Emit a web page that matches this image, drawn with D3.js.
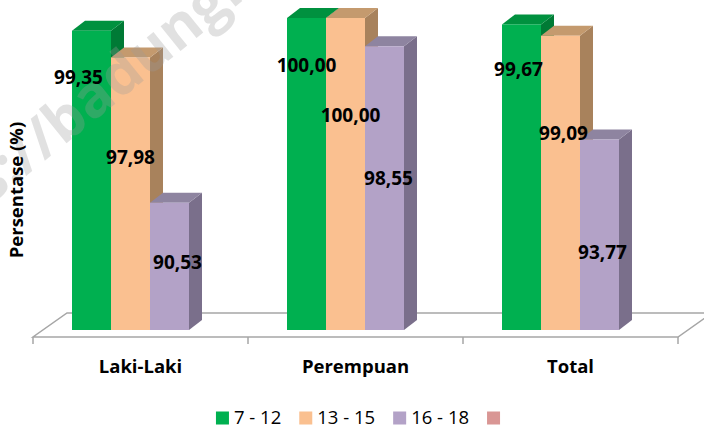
<!DOCTYPE html>
<html>
<head>
<meta charset="utf-8">
<script src="https://cdn.jsdelivr.net/npm/d3@7"></script>
<style>
  body { margin: 0; background: #fff; }
  svg { display: block; }
</style>
</head>
<body>
<div id="chart"></div>
<script>
// Data
const categories = ["Laki-Laki", "Perempuan", "Total"];
const series = ["7 - 12", "13 - 15", "16 - 18"];
const values712 = [99.35, 100.00, 99.67];
const values1315 = [97.98, 100.00, 99.09];
const values1618 = [90.53, 98.55, 93.77];
const legendItems = ["7 - 12", "13 - 15", "16 - 18", ""];

// Colours: front, top, side
const colors = [
    {front: "#00B050", top: "#00913F", side: "#007A35"},
    {front: "#FAC090", top: "#C49A6E", side: "#A8825C"},
    {front: "#B3A2C7", top: "#8E84A0", side: "#7A6F8B"},
    {front: "#D99694", top: "#D99694", side: "#D99694"}
];

// label placement (excel puts them oddly on 3d bars)
const labelDx = [[-13, 0, 8], [0, 5, 4], [-3, 3, 3]];
const labelDy = [[47, 100, 60], [47, 97, 132], [45, 98, 113]];

const W = 704, H = 428;
const depthX = 13, depthY = 10;

const svg = d3.select("#chart").append("svg")
    .attr("width", W)
    .attr("height", H);

const x0 = d3.scaleBand()
    .domain(categories)
    .range([33, 678]);

const x1 = d3.scaleBand()
    .domain(series)
    .range([0, 117]);

const y = d3.scaleLinear()
    .domain([84, 100])
    .range([330, 18]);

const baseY = y(84);

// Floor
const fl = x0.range()[0], fr = x0.range()[1];
const floorFront = baseY + 7, floorBack = baseY - 17;
svg.append("polygon")
    .attr("points", [[fl, floorFront], [fr, floorFront], [fr + 34, floorBack], [fl + 34, floorBack]].join(" "))
    .attr("fill", "#fff")
    .attr("stroke", "#A6A6A6")
    .attr("stroke-width", 1.5);

// ticks along front edge
svg.selectAll(".tick")
    .data(categories.concat([null]))
    .enter()
    .append("line")
    .attr("x1", (d, i) => fl + i * x0.step())
    .attr("x2", (d, i) => fl + i * x0.step())
    .attr("y1", floorFront)
    .attr("y2", floorFront + 7)
    .attr("stroke", "#A6A6A6")
    .attr("stroke-width", 1.5);

const allValues = [values712, values1315, values1618];
const bars = [];
categories.forEach((c, ci) => {
    series.forEach((s, si) => {
        bars.push({cat: c, ci: ci, si: si, value: allValues[si][ci]});
    });
});

const groupOffset = (x0.bandwidth() - 117) / 2 - 10;
const bx = d => x0(d.cat) + groupOffset + x1(series[d.si]);
const bw = x1.bandwidth();

const g = svg.selectAll(".bar")
    .data(bars)
    .enter()
    .append("g");

// side
g.append("polygon")
    .attr("points", d => {
        const x = bx(d), t = y(d.value);
        return [[x + bw, t], [x + bw + depthX, t - depthY], [x + bw + depthX, baseY - depthY], [x + bw, baseY]].join(" ");
    })
    .attr("fill", d => colors[d.si].side);

// top
g.append("polygon")
    .attr("points", d => {
        const x = bx(d), t = y(d.value);
        return [[x, t], [x + depthX, t - depthY], [x + bw + depthX, t - depthY], [x + bw, t]].join(" ");
    })
    .attr("fill", d => colors[d.si].top);

// front
g.append("rect")
    .attr("x", d => bx(d))
    .attr("y", d => y(d.value))
    .attr("width", bw)
    .attr("height", d => baseY - y(d.value))
    .attr("fill", d => colors[d.si].front);

// watermark, sits over the bars
const wm = svg.append("g")
    .attr("transform", "translate(63,146) rotate(-39)")
    .attr("font-family", "Open Sans, sans-serif")
    .attr("font-weight", "bold")
    .attr("font-size", 58)
    .attr("fill", "#9a9a9a")
    .attr("fill-opacity", 0.3);
wm.append("text").attr("text-anchor", "end").text("https://");
wm.append("text").attr("text-anchor", "start").text("badungkab.bps.go.id");

// value labels
svg.selectAll(".label")
    .data(bars)
    .enter()
    .append("text")
    .attr("x", d => bx(d) + bw / 2 + labelDx[d.ci][d.si])
    .attr("y", d => y(d.value) + labelDy[d.ci][d.si])
    .attr("dy", "0.35em")
    .attr("text-anchor", "middle")
    .attr("font-family", "Open Sans, sans-serif")
    .attr("font-weight", "bold")
    .attr("font-size", 19)
    .attr("fill", "#000")
    .text(d => d3.format(".2f")(d.value).replace(".", ","));

// category labels
svg.selectAll(".cat")
    .data(categories)
    .enter()
    .append("text")
    .attr("x", d => x0(d) + x0.bandwidth() / 2)
    .attr("y", 367)
    .attr("dy", "0.35em")
    .attr("text-anchor", "middle")
    .attr("font-family", "Open Sans, sans-serif")
    .attr("font-weight", "bold")
    .attr("font-size", 18.5)
    .attr("fill", "#000")
    .text(d => d);

// y axis title
svg.append("text")
    .attr("transform", "translate(17,190) rotate(-90)")
    .attr("dy", "0.35em")
    .attr("text-anchor", "middle")
    .attr("font-family", "Open Sans, sans-serif")
    .attr("font-weight", "bold")
    .attr("font-size", 18.5)
    .text("Persentase (%)");

// Legend
const legend = svg.append("g");
let lx = 0;
legendItems.forEach((name, i) => {
    const item = legend.append("g").attr("transform", "translate(" + lx + ",0)");
    item.append("rect")
        .attr("x", 0)
        .attr("y", -6.5)
        .attr("width", 13)
        .attr("height", 13)
        .attr("fill", colors[i].front);
    const t = item.append("text")
        .attr("x", 18)
        .attr("dy", "0.35em")
        .attr("font-family", "Open Sans, sans-serif")
        .attr("font-size", 18.5)
        .attr("fill", "#000")
        .text(name);
    const tw = name ? t.node().getComputedTextLength() : 0;
    lx += (name ? 18 + tw : 13) + 18;
});
const legendWidth = lx - 18;
legend.attr("transform", "translate(" + (358 - legendWidth / 2) + ",418)");
</script>
</body>
</html>
